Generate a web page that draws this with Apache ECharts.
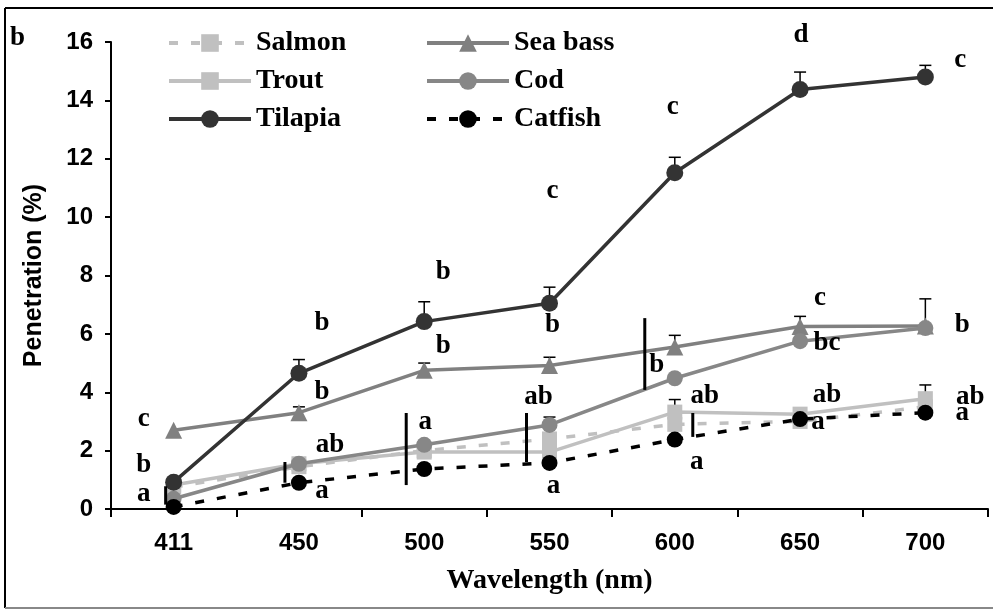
<!DOCTYPE html>
<html>
<head>
<meta charset="utf-8">
<script src="https://cdn.jsdelivr.net/npm/echarts@6/dist/echarts.min.js"></script>
<style>html,body{margin:0;padding:0;background:#fff}#c{width:993px;height:610px}</style>
</head>
<body>
<div id="c"></div>
<script>
// ---- data ----
const wavelengths = ['411', '450', '500', '550', '600', '650', '700'];
const yTicks = [0, 2, 4, 6, 8, 10, 12, 14, 16];

const salmon  = [0.75, 1.45, 2.0, 2.4, 2.9, 3.0, 3.5];
const trout   = [0.82, 1.55, 1.95, 1.95, 3.32, 3.25, 3.78];
const seaBass = [2.7, 3.3, 4.75, 4.92, 5.55, 6.25, 6.27];
const cod     = [0.35, 1.55, 2.2, 2.88, 4.48, 5.75, 6.2];
const tilapia = [0.92, 4.65, 6.42, 7.05, 11.52, 14.37, 14.8];
const catfish = [0.07, 0.9, 1.37, 1.58, 2.38, 3.08, 3.3];

// error bar tops (upper SD only): [categoryIndex, mean, top]
const tilapiaErr = [[1, 4.65, 5.12], [2, 6.42, 7.1], [3, 7.05, 7.6], [4, 11.52, 12.05], [5, 14.37, 14.97], [6, 14.8, 15.2]];
const seaBassErr = [[1, 3.3, 3.5], [2, 4.75, 5.0], [3, 4.92, 5.2], [4, 5.55, 5.95], [5, 6.25, 6.6], [6, 6.27, 7.2]];
const codErr     = [[3, 2.88, 3.15]];
const troutErr   = [[4, 3.32, 3.75], [6, 3.78, 4.25]];

// significance letters: [categoryIndex, value, text, pixel shift x]
const letters = [
  [0, 3.08, 'c', -30], [0, 1.5, 'b', -30], [0, 0.5, 'a', -30],
  [1, 6.37, 'b', 23], [1, 4.0, 'b', 23], [1, 2.2, 'ab', 31], [1, 0.62, 'a', 23],
  [2, 8.12, 'b', 19], [2, 5.58, 'b', 19], [2, 2.98, 'a', 1],
  [3, 10.9, 'c', 3], [3, 6.3, 'b', 3], [3, 3.82, 'ab', -11], [3, 0.8, 'a', 4],
  [4, 13.77, 'c', -2], [4, 4.93, 'b', -18], [4, 3.88, 'ab', 30], [4, 1.62, 'a', 22],
  [5, 16.24, 'd', 1], [5, 7.23, 'c', 20], [5, 5.67, 'bc', 27], [5, 3.9, 'ab', 27], [5, 2.98, 'a', 18],
  [6, 15.38, 'c', 35], [6, 6.3, 'b', 37], [6, 3.85, 'ab', 45], [6, 3.29, 'a', 37]
];
// grouping bars: [categoryIndex, fromValue, toValue, pixel shift x]
const groupBars = [
  [0, 0.15, 0.78, -8], [1, 0.9, 1.61, -14], [2, 0.82, 3.29, -18],
  [3, 1.61, 3.29, -23], [4, 4.08, 6.54, -30], [4, 2.47, 3.29, 18]
];

const serif = 'Liberation Serif, Times New Roman, serif';
const sans = 'Liberation Sans, Arial, sans-serif';
const narrow = 'Liberation Sans Narrow, Arial Narrow, Liberation Sans, sans-serif';

function lineSeries(name, data, color, symbol, size, dashed, z) {
  return {
    name, type: 'line', data, symbol, symbolSize: size, z,
    lineStyle: { color, width: 3.5, type: dashed ? [9, 13] : 'solid' },
    itemStyle: { color, borderWidth: 0 },
    emphasis: { disabled: true }, animation: false
  };
}
function errSeries(data, z) {
  return {
    type: 'custom', data, z, animation: false, silent: true,
    renderItem: (p, api) => {
      const a = api.coord([api.value(0), api.value(1)]);
      const b = api.coord([api.value(0), api.value(2)]);
      return { type: 'group', children: [
        { type: 'line', shape: { x1: a[0], y1: a[1], x2: b[0], y2: b[1] }, style: { stroke: '#000', lineWidth: 1.5 } },
        { type: 'line', shape: { x1: b[0] - 6, y1: b[1], x2: b[0] + 6, y2: b[1] }, style: { stroke: '#000', lineWidth: 1.5 } }
      ] };
    }
  };
}

const legendCommon = {
  orient: 'vertical', itemWidth: 82, itemHeight: 22, itemGap: 10, itemStyle: { borderWidth: 0 },
  lineStyle: { width: 4 },
  textStyle: { fontFamily: serif, fontWeight: 'bold', fontSize: 28, color: '#000', lineHeight: 22 }
};

const chart = echarts.init(document.getElementById('c'));
const option = {
  backgroundColor: '#fff',
  animation: false,
  grid: { left: 111, right: 5, top: 42, bottom: 101 },
  legend: [
    Object.assign({ left: 162, top: 24, data: ['Salmon', 'Trout', 'Tilapia'] }, legendCommon),
    Object.assign({ left: 420, top: 24, data: ['Sea bass', 'Cod', 'Catfish'] }, legendCommon)
  ],
  xAxis: {
    type: 'category', data: wavelengths, boundaryGap: true,
    name: 'Wavelength (nm)', nameLocation: 'middle', nameGap: 58,
    nameTextStyle: { fontFamily: serif, fontWeight: 'bold', fontSize: 28, color: '#000' },
    axisLine: { lineStyle: { color: '#000', width: 2 } },
    axisTick: { show: true, length: 8, alignWithLabel: false, lineStyle: { color: '#000', width: 2 } },
    axisLabel: { fontFamily: narrow, fontWeight: 'bold', fontSize: 24, color: '#000', margin: 22 },
    splitLine: { show: false }
  },
  yAxis: {
    type: 'value', min: yTicks[0], max: yTicks[yTicks.length - 1], interval: 2,
    name: 'Penetration (%)', nameLocation: 'middle', nameGap: 64,
    nameTextStyle: { fontFamily: sans, fontWeight: 'bold', fontSize: 25, color: '#000' },
    axisLine: { show: true, lineStyle: { color: '#000', width: 2 } },
    axisTick: { show: true, length: 6, lineStyle: { color: '#000', width: 2 } },
    axisLabel: { fontFamily: sans, fontWeight: 'bold', fontSize: 24, color: '#000', margin: 18 },
    splitLine: { show: false }
  },
  series: [
    lineSeries('Salmon', salmon, '#c0c0c0', 'rect', 15, true, 2),
    lineSeries('Trout', trout, '#c0c0c0', 'rect', 15, false, 3),
    lineSeries('Sea bass', seaBass, '#808080', 'triangle', 17, false, 4),
    lineSeries('Cod', cod, '#878787', 'circle', 16, false, 5),
    lineSeries('Tilapia', tilapia, '#333333', 'circle', 17, false, 6),
    lineSeries('Catfish', catfish, '#000000', 'circle', 16, true, 7),
    errSeries(tilapiaErr, 1), errSeries(seaBassErr, 1), errSeries(codErr, 1), errSeries(troutErr, 1),
    {
      type: 'custom', data: groupBars, z: 8, silent: true, animation: false, clip: false,
      renderItem: (p, api) => {
        const a = api.coord([api.value(0), api.value(1)]);
        const b = api.coord([api.value(0), api.value(2)]);
        const dx = api.value(3);
        return { type: 'line', shape: { x1: a[0] + dx, y1: a[1], x2: b[0] + dx, y2: b[1] }, style: { stroke: '#000', lineWidth: 3 } };
      }
    },
    {
      type: 'custom', data: letters, z: 9, silent: true, animation: false, clip: false,
      dimensions: ['x', 'y', 't', 'dx'],
      renderItem: (p, api) => {
        const i = p.dataIndex;
        const a = api.coord([letters[i][0], letters[i][1]]);
        return { type: 'text', x: a[0] + letters[i][3], y: a[1], style: {
          text: letters[i][2], fill: '#000', font: 'bold 27px ' + serif, align: 'center', verticalAlign: 'middle' } };
      }
    }
  ],
  graphic: [
    { type: 'line', shape: { x1: 5, y1: 8, x2: 993, y2: 8 }, style: { stroke: '#000', lineWidth: 2 } },
    { type: 'line', shape: { x1: 5, y1: 8, x2: 5, y2: 608 }, style: { stroke: '#000', lineWidth: 2 } },
    { type: 'line', shape: { x1: 5, y1: 608, x2: 993, y2: 608 }, style: { stroke: '#888', lineWidth: 2 } },
    { type: 'text', left: 10, top: 25, style: { text: 'b', font: 'bold 27px ' + serif, fill: '#000' } }
  ]
};
chart.setOption(option);
</script>
</body>
</html>
